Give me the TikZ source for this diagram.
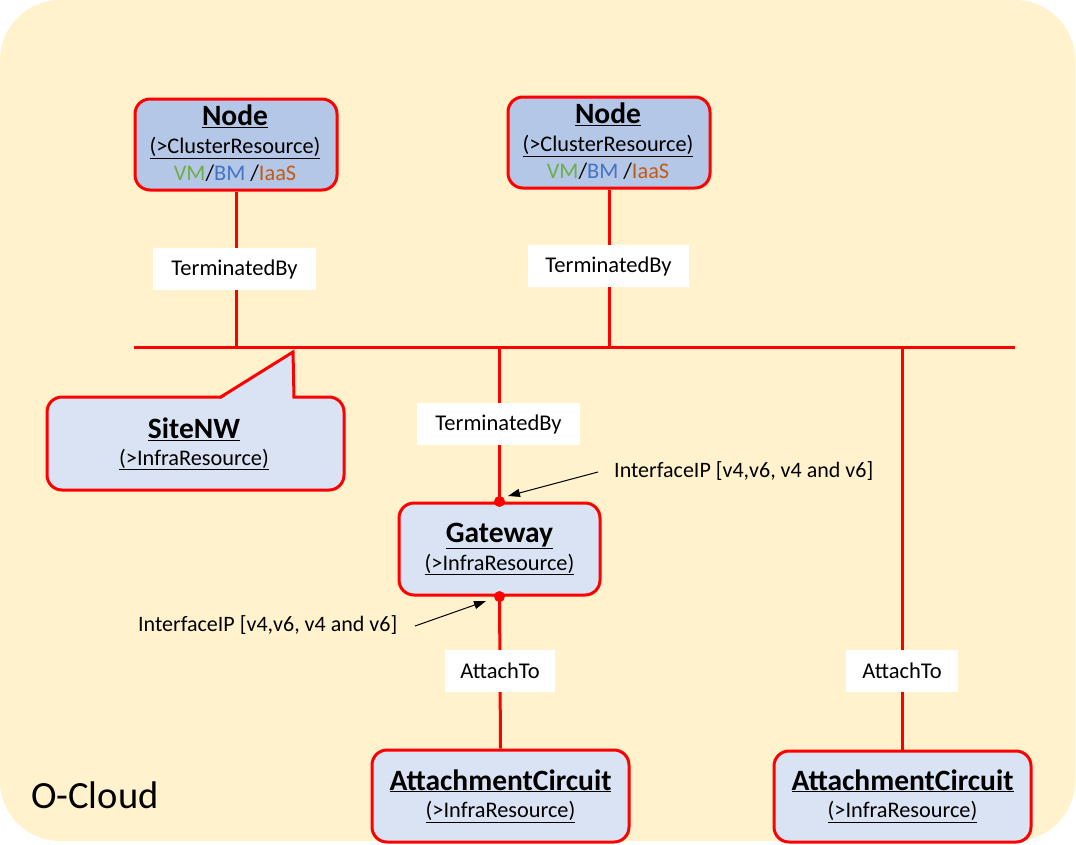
\documentclass[tikz,border=0pt]{standalone}
\usepackage{fontspec}
\setmainfont{Carlito}
\usetikzlibrary{arrows.meta,calc}
\definecolor{bgc}{HTML}{FFF2CC}
\definecolor{nodefill}{HTML}{B4C7E7}
\definecolor{lightfill}{HTML}{DAE3F3}
\definecolor{redc}{HTML}{FF0000}
\definecolor{vmc}{HTML}{70AD47}
\definecolor{bmc}{HTML}{4472C4}
\definecolor{iaasc}{HTML}{C55A11}
\tikzset{
  box/.style={draw=redc, line width=3pt, rounded corners=15pt, inner sep=0pt},
  nodebox/.style={box, fill=nodefill, minimum width=202pt, minimum height=91pt},
  infrabox/.style={box, fill=lightfill},
  title/.style={font=\fontsize{29.5}{32}\selectfont\bfseries, inner sep=0pt, anchor=base},
  sub/.style={font=\fontsize{22.3}{25}\selectfont, inner sep=0pt, anchor=base},
  lbl/.style={fill=white, minimum height=42pt, font=\fontsize{22.5}{25}\selectfont, inner sep=0pt},
  iplbl/.style={font=\fontsize{22}{25}\selectfont, inner sep=0pt, anchor=west},
  redline/.style={draw=redc, line width=3pt},
  dot/.style={circle, fill=redc, minimum size=11pt, inner sep=0pt},
  ptr/.style={draw=black, line width=1pt, -{Triangle[length=12pt,width=8pt]}},
}
\begin{document}
\begin{tikzpicture}[x=1pt,y=-1pt]
\useasboundingbox (0,0) rectangle (1076,844);
\fill[bgc, rounded corners=60pt] (0,0) rectangle (1075,841);

% bus
\coordinate (busL) at (134,347);
\coordinate (busR) at (1015,347);

% nodes
\node[nodebox] (n1) at (236,144.5) {};
\node[title] (n1t) at (235,125.5) {\underline{Node}};
\node[sub] (n1s) at (235,153.7) {\underline{(>ClusterResource)}};
\node[sub] (n1v) at (235,180.3) {\textcolor{vmc}{VM}/\textcolor{bmc}{BM} /\textcolor{iaasc}{IaaS}};

\node[nodebox] (n2) at (609,142.5) {};
\node[title] (n2t) at (608,123.5) {\underline{Node}};
\node[sub] (n2s) at (608,151.7) {\underline{(>ClusterResource)}};
\node[sub] (n2v) at (608,178.3) {\textcolor{vmc}{VM}/\textcolor{bmc}{BM} /\textcolor{iaasc}{IaaS}};

% SiteNW callout
\node[infrabox, minimum width=297pt, minimum height=93pt] (site) at (195.5,443.5) {};
\coordinate (tip) at (293,352);
\fill[lightfill] (221,399) -- (tip) -- (292.5,399) -- cycle;
\draw[draw=redc, line width=3pt, line join=miter] (220,397.5) -- (tip) -- (294,397.5);
\node[title] (sitet) at (194,438.5) {\underline{SiteNW}};
\node[sub] (sites) at (194,465) {\underline{(>InfraResource)}};

% Gateway
\node[infrabox, minimum width=201pt, minimum height=92pt] (gw) at (499.5,549) {};
\node[title] (gwt) at (499.5,542.5) {\underline{Gateway}};
\node[sub] (gws) at (499.5,570) {\underline{(>InfraResource)}};

% Attachment circuits
\node[infrabox, minimum width=257pt, minimum height=92pt] (ac1) at (500.5,796) {};
\node[title] (ac1t) at (500.5,790) {\underline{AttachmentCircuit}};
\node[sub] (ac1s) at (500.5,817.5) {\underline{(>InfraResource)}};

\node[infrabox, minimum width=257pt, minimum height=91pt] (ac2) at (902.5,796.5) {};
\node[title] (ac2t) at (902.5,790) {\underline{AttachmentCircuit}};
\node[sub] (ac2s) at (902.5,817.5) {\underline{(>InfraResource)}};

% lines
\draw[redline] (busL) -- (busR);
\draw[redline] (n1.south) -- (n1.south |- busL);
\draw[redline] (n2.south) -- (n2.south |- busL);
\draw[redline] (gw.north) -- (gw.north |- busL);
\draw[redline] (gw.south) -- (ac1.north);
\draw[redline] (ac2.north) -- (ac2.north |- busL);

% labels
\node[lbl, minimum width=163pt] (l1) at (234.5,269) {TerminatedBy};
\node[lbl, minimum width=161pt] (l2) at (608.5,266) {TerminatedBy};
\node[lbl, minimum width=163pt] (l3) at (498.5,424) {TerminatedBy};
\node[lbl, minimum width=110pt] (l4) at (500,671) {AttachTo};
\node[lbl, minimum width=112pt] (l5) at (902,671) {AttachTo};

% dots
\node[dot] (d1) at (gw.north) {};
\node[dot] (d2) at (gw.south) {};

% interface labels
\node[iplbl] (ip1) at (614,471) {InterfaceIP [v4,v6, v4 and v6]};
\node[iplbl] (ip2) at (138,625) {InterfaceIP [v4,v6, v4 and v6]};
\coordinate (ip1s) at (598,472);
\coordinate (ip1e) at (508,496);
\coordinate (ip2s) at (415,626);
\coordinate (ip2e) at (486,601);
\draw[ptr] (ip1s) -- (ip1e);
\draw[ptr] (ip2s) -- (ip2e);

% O-Cloud
\node[font=\fontsize{38.5}{40}\selectfont, anchor=base west, inner sep=0pt] (oc) at (31,808) {O-Cloud};
\end{tikzpicture}
\end{document}
